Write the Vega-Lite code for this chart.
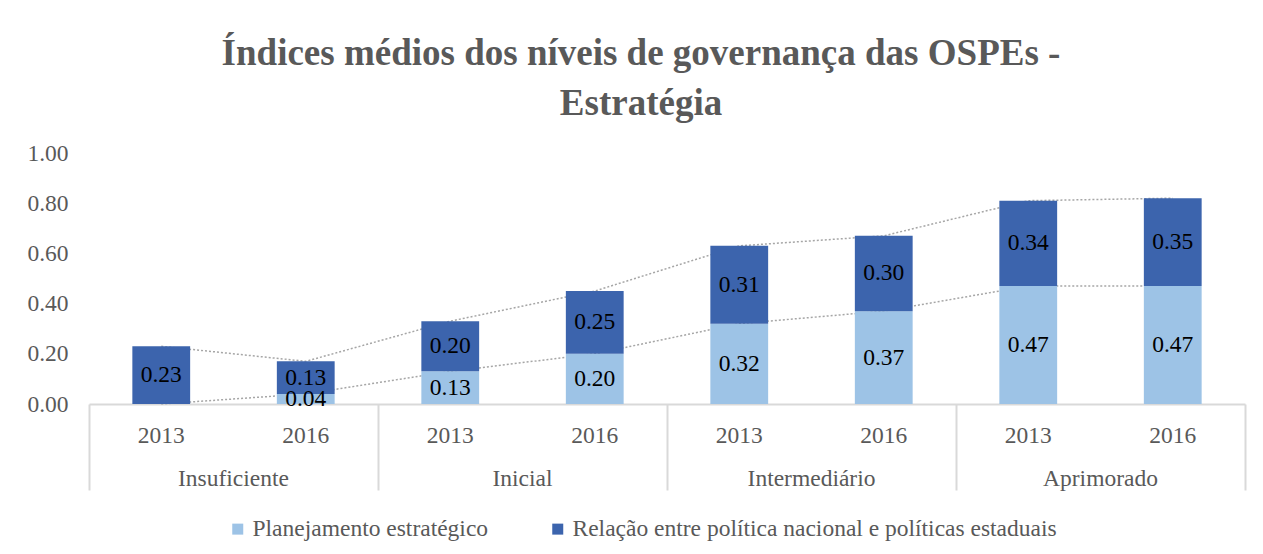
{
  "$schema": "https://vega.github.io/schema/vega-lite/v6.json",
  "width": 1156,
  "height": 251,
  "padding": {"left": 26, "top": 35, "right": 18, "bottom": 5},
  "background": "white",
  "config": {"view": {"stroke": null}, "font": "Liberation Serif"},
  "title": {
    "text": ["Índices médios dos níveis de governança das OSPEs -", "Estratégia"],
    "font": "Liberation Serif",
    "fontSize": 37,
    "fontWeight": "bold",
    "color": "#595959",
    "lineHeight": 50,
    "anchor": "middle",
    "offset": 18,
    "dx": -26
  },
  "data": {
    "values": [
      {"key": "Insuficiente|2013", "grupo": "Insuficiente", "ano": "2013", "serie": "Planejamento estratégico", "valor": 0.0},
      {"key": "Insuficiente|2016", "grupo": "Insuficiente", "ano": "2016", "serie": "Planejamento estratégico", "valor": 0.04},
      {"key": "Inicial|2013", "grupo": "Inicial", "ano": "2013", "serie": "Planejamento estratégico", "valor": 0.13},
      {"key": "Inicial|2016", "grupo": "Inicial", "ano": "2016", "serie": "Planejamento estratégico", "valor": 0.20},
      {"key": "Intermediário|2013", "grupo": "Intermediário", "ano": "2013", "serie": "Planejamento estratégico", "valor": 0.32},
      {"key": "Intermediário|2016", "grupo": "Intermediário", "ano": "2016", "serie": "Planejamento estratégico", "valor": 0.37},
      {"key": "Aprimorado|2013", "grupo": "Aprimorado", "ano": "2013", "serie": "Planejamento estratégico", "valor": 0.47},
      {"key": "Aprimorado|2016", "grupo": "Aprimorado", "ano": "2016", "serie": "Planejamento estratégico", "valor": 0.47},
      {"key": "Insuficiente|2013", "grupo": "Insuficiente", "ano": "2013", "serie": "Relação entre política nacional e políticas estaduais", "valor": 0.23},
      {"key": "Insuficiente|2016", "grupo": "Insuficiente", "ano": "2016", "serie": "Relação entre política nacional e políticas estaduais", "valor": 0.13},
      {"key": "Inicial|2013", "grupo": "Inicial", "ano": "2013", "serie": "Relação entre política nacional e políticas estaduais", "valor": 0.20},
      {"key": "Inicial|2016", "grupo": "Inicial", "ano": "2016", "serie": "Relação entre política nacional e políticas estaduais", "valor": 0.25},
      {"key": "Intermediário|2013", "grupo": "Intermediário", "ano": "2013", "serie": "Relação entre política nacional e políticas estaduais", "valor": 0.31},
      {"key": "Intermediário|2016", "grupo": "Intermediário", "ano": "2016", "serie": "Relação entre política nacional e políticas estaduais", "valor": 0.30},
      {"key": "Aprimorado|2013", "grupo": "Aprimorado", "ano": "2013", "serie": "Relação entre política nacional e políticas estaduais", "valor": 0.34},
      {"key": "Aprimorado|2016", "grupo": "Aprimorado", "ano": "2016", "serie": "Relação entre política nacional e políticas estaduais", "valor": 0.35}
    ]
  },
  "layer": [
    {
      "layer": [
        {
          "mark": {"type": "line", "stroke": "#A6A6A6", "strokeDash": [2, 2], "strokeWidth": 1.5},
          "encoding": {
            "x": {
              "field": "key", "type": "nominal",
              "sort": ["Insuficiente|2013", "Insuficiente|2016", "Inicial|2013", "Inicial|2016", "Intermediário|2013", "Intermediário|2016", "Aprimorado|2013", "Aprimorado|2016"],
              "scale": {"type": "band", "paddingInner": 0, "paddingOuter": 0},
              "axis": {
                "title": null, "orient": "bottom", "labelExpr": "split(datum.label, '|')[1]", "labelAngle": 0,
                "ticks": false, "domainColor": "#D9D9D9", "domainWidth": 2,
                "labelFont": "Liberation Serif", "labelFontSize": 23.5, "labelColor": "#595959",
                "labelPadding": 19, "labelOverlap": false
              }
            },
            "y": {
              "field": "valor", "type": "quantitative", "stack": "zero",
              "scale": {"domain": [0, 1]},
              "axis": {
                "title": null, "values": [0, 0.2, 0.4, 0.6, 0.8, 1], "format": ".2f",
                "grid": false, "domain": false, "ticks": false, "labelPadding": 21,
                "labelFont": "Liberation Serif", "labelFontSize": 23.5, "labelColor": "#595959"
              }
            },
            "detail": {"field": "serie"},
            "order": {"sort": "ascending"}
          }
        },
        {
          "mark": {"type": "bar", "width": {"band": 0.4}},
          "encoding": {
            "x": {
              "field": "key", "type": "nominal",
              "sort": ["Insuficiente|2013", "Insuficiente|2016", "Inicial|2013", "Inicial|2016", "Intermediário|2013", "Intermediário|2016", "Aprimorado|2013", "Aprimorado|2016"],
              "scale": {"type": "band", "paddingInner": 0, "paddingOuter": 0}
            },
            "y": {"field": "valor", "type": "quantitative", "stack": "zero"},
            "color": {
              "field": "serie", "type": "nominal",
              "scale": {"domain": ["Planejamento estratégico", "Relação entre política nacional e políticas estaduais"], "range": ["#9DC3E6", "#3C64AD"]},
              "legend": {
                "title": null, "orient": "none", "legendX": 137, "legendY": 364, "direction": "horizontal",
                "symbolType": "square", "symbolSize": 121, "symbolStrokeWidth": 0,
                "labelFont": "Liberation Serif", "labelFontSize": 23.5, "labelColor": "#595959",
                "columnPadding": 57, "labelOffset": 3, "labelLimit": 1000
              }
            },
            "order": {"sort": "ascending"}
          }
        },
        {
          "transform": [{"filter": "datum.valor > 0"}],
          "mark": {"type": "text", "font": "Liberation Serif", "fontSize": 23.5, "color": "#000000", "baseline": "middle", "align": "center"},
          "encoding": {
            "x": {
              "field": "key", "type": "nominal",
              "sort": ["Insuficiente|2013", "Insuficiente|2016", "Inicial|2013", "Inicial|2016", "Intermediário|2013", "Intermediário|2016", "Aprimorado|2013", "Aprimorado|2016"],
              "scale": {"type": "band", "paddingInner": 0, "paddingOuter": 0}
            },
            "y": {"field": "valor", "type": "quantitative", "stack": "zero", "bandPosition": 0.5},
            "detail": {"field": "serie"},
            "order": {"field": "serie", "type": "nominal", "sort": "ascending"},
            "text": {"field": "valor", "type": "quantitative", "format": ".2f"}
          }
        }
      ]
    },
    {
      "mark": {"type": "rule", "opacity": 0},
      "encoding": {
        "x": {
          "field": "grupo", "type": "nominal",
          "sort": ["Insuficiente", "Inicial", "Intermediário", "Aprimorado"],
          "scale": {"type": "band", "paddingInner": 0, "paddingOuter": 0},
          "axis": {
            "title": null, "orient": "bottom", "labelAngle": 0, "domain": false,
            "ticks": true, "tickSize": 86, "tickColor": "#D9D9D9", "tickWidth": 2,
            "bandPosition": 1, "tickExtra": true,
            "labelFont": "Liberation Serif", "labelFontSize": 23.5, "labelColor": "#595959",
            "labelPadding": -24, "labelOverlap": false
          }
        }
      }
    }
  ],
  "resolve": {"scale": {"x": "independent"}}
}
